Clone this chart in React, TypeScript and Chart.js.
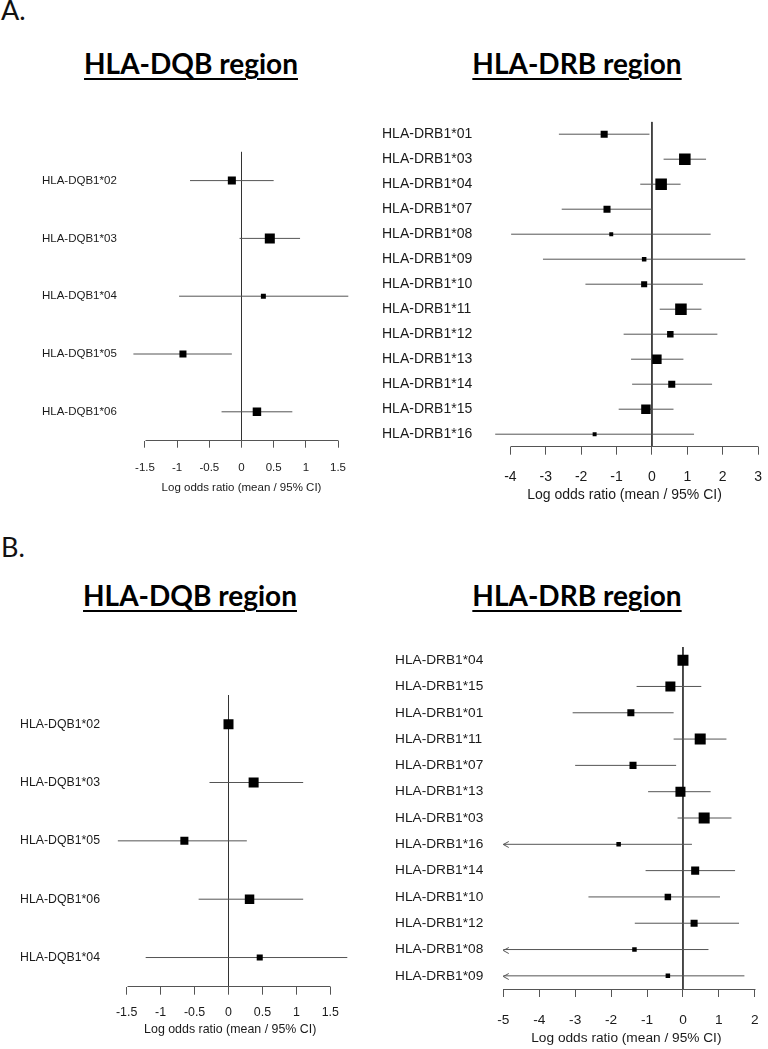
import React, { useEffect, useRef } from "react";
import { Chart, registerables } from "chart.js";

Chart.register(...registerables);

// ---------------- DATA ----------------
// Panel A – HLA-DQB region
const dqbALabels = ["HLA-DQB1*02", "HLA-DQB1*03", "HLA-DQB1*04", "HLA-DQB1*05", "HLA-DQB1*06"];
const dqbAMean = [-0.15, 0.44, 0.34, -0.91, 0.24];
const dqbALow = [-0.8, -0.03, -0.97, -1.68, -0.31];
const dqbAHigh = [0.5, 0.91, 1.66, -0.15, 0.79];
const dqbAWeight = [0.73, 0.91, 0.45, 0.64, 0.77];
const dqbATicks = [-1.5, -1, -0.5, 0, 0.5, 1, 1.5];
const dqbATickLabels = ["-1.5", "-1", "-0.5", "0", "0.5", "1", "1.5"];

// Panel A – HLA-DRB region
const drbALabels = [
  "HLA-DRB1*01", "HLA-DRB1*03", "HLA-DRB1*04", "HLA-DRB1*07", "HLA-DRB1*08",
  "HLA-DRB1*09", "HLA-DRB1*10", "HLA-DRB1*11", "HLA-DRB1*12", "HLA-DRB1*13",
  "HLA-DRB1*14", "HLA-DRB1*15", "HLA-DRB1*16",
];
const drbAMean = [-1.35, 0.93, 0.26, -1.27, -1.15, -0.22, -0.22, 0.82, 0.52, 0.14, 0.56, -0.17, -1.62];
const drbALow = [-2.63, 0.33, -0.33, -2.55, -3.98, -3.08, -1.88, 0.22, -0.8, -0.59, -0.56, -0.94, -4.43];
const drbAHigh = [-0.07, 1.53, 0.81, 0.0, 1.66, 2.64, 1.44, 1.4, 1.85, 0.89, 1.7, 0.61, 1.19];
const drbAWeight = [0.64, 1.05, 1.05, 0.64, 0.36, 0.41, 0.55, 1.05, 0.59, 0.86, 0.64, 0.86, 0.36];
const drbATicks = [-4, -3, -2, -1, 0, 1, 2, 3];
const drbATickLabels = ["-4", "-3", "-2", "-1", "0", "1", "2", "3"];

// Panel B – HLA-DQB region
const dqbBLabels = ["HLA-DQB1*02", "HLA-DQB1*03", "HLA-DQB1*05", "HLA-DQB1*06", "HLA-DQB1*04"];
const dqbBMean = [0.0, 0.37, -0.65, 0.31, 0.46];
const dqbBLow = [0.0, -0.28, -1.63, -0.44, -1.22];
const dqbBHigh = [0.0, 1.1, 0.27, 1.1, 1.75];
const dqbBWeight = [0.91, 0.91, 0.73, 0.86, 0.55];
const dqbBTicks = [-1.5, -1, -0.5, 0, 0.5, 1, 1.5];
const dqbBTickLabels = ["-1.5", "-1", "-0.5", "0", "0.5", "1", "1.5"];

// Panel B – HLA-DRB region (null lower bound = beyond the axis, drawn as arrow)
const drbBLabels = [
  "HLA-DRB1*04", "HLA-DRB1*15", "HLA-DRB1*01", "HLA-DRB1*11", "HLA-DRB1*07",
  "HLA-DRB1*13", "HLA-DRB1*03", "HLA-DRB1*16", "HLA-DRB1*14", "HLA-DRB1*10",
  "HLA-DRB1*12", "HLA-DRB1*08", "HLA-DRB1*09",
];
const drbBMean = [0.0, -0.35, -1.45, 0.48, -1.39, -0.07, 0.59, -1.79, 0.34, -0.42, 0.31, -1.35, -0.42];
const drbBLow = [0.0, -1.29, -3.07, -0.26, -3.0, -0.97, -0.15, null, -1.04, -2.63, -1.34, null, null];
const drbBHigh = [0.0, 0.51, -0.26, 1.21, -0.19, 0.77, 1.35, 0.25, 1.45, 1.03, 1.56, 0.71, 1.71];
const drbBWeight = [1.0, 0.91, 0.64, 1.0, 0.64, 0.91, 1.0, 0.41, 0.73, 0.59, 0.64, 0.41, 0.41];
const drbBTicks = [-5, -4, -3, -2, -1, 0, 1, 2];
const drbBTickLabels = ["-5", "-4", "-3", "-2", "-1", "0", "1", "2"];
const drbBAxisFloor = -5;

const axisTitle = "Log odds ratio (mean / 95% CI)";

// ---------------- STYLE ----------------
const BOX_PX = 11;
const CI_COLOR = "#555555";
const ZERO_COLOR = "#333333";
const AXIS_COLOR = "#555555";
const TEXT_COLOR = "#1a1a1a";
const SANS = "'Liberation Sans', Arial, sans-serif";

type Panel = {
  labels: string[];
  mean: number[];
  low: (number | null)[];
  high: number[];
  weight: number[];
  ticks: number[];
  tickLabels: string[];
  floor?: number;
  xMin: number;
  xMax: number;
  box: { left: number; top: number; width: number; height: number };
  pad: { left: number; top: number; right: number; bottom: number };
  yAxisWidth: number;
  xAxisHeight: number;
  labelSize: number;
  tickSize: number;
  tickLength: number;
  tickLine: number;
  titlePad: number;
};

const panels: Panel[] = [
  {
    labels: dqbALabels, mean: dqbAMean, low: dqbALow, high: dqbAHigh, weight: dqbAWeight,
    ticks: dqbATicks, tickLabels: dqbATickLabels,
    xMin: -1.75, xMax: 1.75,
    box: { left: 0, top: 100, width: 384, height: 400 },
    pad: { left: 42, top: 51.7, right: 29.9, bottom: 0 },
    yAxisWidth: 86.9, xAxisHeight: 59.3,
    labelSize: 11.5, tickSize: 11.5, tickLength: 7, tickLine: 40, titlePad: 4.8,
  },
  {
    labels: drbALabels, mean: drbAMean, low: drbALow, high: drbAHigh, weight: drbAWeight,
    ticks: drbATicks, tickLabels: drbATickLabels,
    xMin: -4.6, xMax: 3.05,
    box: { left: 370, top: 100, width: 398, height: 420 },
    pad: { left: 12, top: 21.7, right: 2.6, bottom: 0 },
    yAxisWidth: 107.2, xAxisHeight: 73.3,
    labelSize: 14, tickSize: 14, tickLength: 8, tickLine: 45, titlePad: 16.6,
  },
  {
    labels: dqbBLabels, mean: dqbBMean, low: dqbBLow, high: dqbBHigh, weight: dqbBWeight,
    ticks: dqbBTicks, tickLabels: dqbBTickLabels,
    xMin: -1.8, xMax: 1.85,
    box: { left: 0, top: 640, width: 384, height: 409 },
    pad: { left: 20, top: 55, right: 29.9, bottom: 0 },
    yAxisWidth: 86.3, xAxisHeight: 62.3,
    labelSize: 12.3, tickSize: 12.4, tickLength: 8, tickLine: 36.6, titlePad: 11.6,
  },
  {
    labels: drbBLabels, mean: drbBMean, low: drbBLow, high: drbBHigh, weight: drbBWeight,
    ticks: drbBTicks, tickLabels: drbBTickLabels, floor: drbBAxisFloor,
    xMin: -5.3, xMax: 2.15,
    box: { left: 370, top: 620, width: 398, height: 429 },
    pad: { left: 25, top: 27, right: 3.1, bottom: 0 },
    yAxisWidth: 97.5, xAxisHeight: 60,
    labelSize: 13.7, tickSize: 13.7, tickLength: 8, tickLine: 46, titlePad: 2.6,
  },
];

function Forest({ p }: { p: Panel }) {
  const ref = useRef<HTMLCanvasElement>(null);
  useEffect(() => {
    const canvas = ref.current;
    if (!canvas) return;
    const n = p.labels.length;
    const datasets: any[] = [];
    datasets.push({
      type: "scatter",
      data: p.mean.map((m, i) => ({ x: m, y: i + 1 })),
      pointStyle: "rect",
      pointRadius: p.weight.map((w) => (w * BOX_PX) / Math.SQRT2),
      pointHoverRadius: p.weight.map((w) => (w * BOX_PX) / Math.SQRT2),
      backgroundColor: "#000",
      borderColor: "#000",
      pointBorderWidth: 0,
      borderWidth: 0,
      order: 0,
    });
    p.mean.forEach((_, i) => {
      const lo = p.low[i] === null ? (p.floor as number) : (p.low[i] as number);
      if (lo === p.high[i]) return;
      datasets.push({
        type: "line",
        data: [
          { x: lo, y: i + 1 },
          { x: p.high[i], y: i + 1 },
        ],
        borderColor: CI_COLOR,
        borderWidth: 1,
        pointRadius: 0,
        order: 1,
      });
    });
    datasets.push({
      type: "line",
      data: [
        { x: 0, y: 0.5 },
        { x: 0, y: n + 0.5 },
      ],
      borderColor: ZERO_COLOR,
      borderWidth: 1,
      pointRadius: 0,
      order: 2,
    });

    const axisLine = {
      id: "axisLine",
      afterDatasetsDraw(chart: any) {
        const { ctx } = chart;
        const xs = chart.scales.x;
        const ys = chart.scales.y;
        const y0 = Math.round(xs.top - 0.5) + 0.5;
        ctx.save();
        ctx.strokeStyle = AXIS_COLOR;
        ctx.lineWidth = 1;
        ctx.beginPath();
        ctx.moveTo(Math.round(xs.getPixelForValue(p.ticks[0])) + 0.5, y0);
        ctx.lineTo(Math.round(xs.getPixelForValue(p.ticks[p.ticks.length - 1])) + 0.5, y0);
        ctx.stroke();
        // arrows for intervals that run past the axis
        ctx.strokeStyle = CI_COLOR;
        p.low.forEach((lo, i) => {
          if (lo !== null) return;
          const px = xs.getPixelForValue(p.floor as number);
          const py = Math.round(ys.getPixelForValue(i + 1)) + 0.5;
          ctx.beginPath();
          ctx.moveTo(px + 5.5, py - 3);
          ctx.lineTo(px, py);
          ctx.lineTo(px + 5.5, py + 3);
          ctx.stroke();
        });
        ctx.restore();
      },
    };

    const chart = new Chart(canvas, {
      type: "scatter",
      data: { datasets },
      plugins: [axisLine],
      options: {
        animation: false,
        responsive: false,
        maintainAspectRatio: false,
        devicePixelRatio: 1,
        events: [],
        layout: { padding: p.pad },
        plugins: { legend: { display: false }, tooltip: { enabled: false } },
        scales: {
          x: {
            type: "linear",
            min: p.xMin,
            max: p.xMax,
            afterBuildTicks: (s: any) => {
              s.ticks = p.ticks.map((v) => ({ value: v }));
            },
            afterFit: (s: any) => {
              s.height = p.xAxisHeight;
            },
            grid: {
              drawOnChartArea: false,
              drawTicks: true,
              tickLength: p.tickLength,
              color: AXIS_COLOR,
              lineWidth: 1,
            },
            border: { display: false },
            ticks: {
              autoSkip: false,
              maxRotation: 0,
              minRotation: 0,
              padding: 0,
              color: TEXT_COLOR,
              font: { family: SANS, size: p.tickSize, lineHeight: p.tickLine + "px" },
              callback: (_v: any, i: number) => p.tickLabels[i],
            },
            title: {
              display: true,
              text: axisTitle,
              color: TEXT_COLOR,
              font: { family: SANS, size: p.tickSize },
              padding: { top: 0, bottom: p.titlePad },
            },
          },
          y: {
            type: "linear",
            min: 0.5,
            max: n + 0.5,
            reverse: true,
            afterBuildTicks: (s: any) => {
              s.ticks = p.labels.map((_, i) => ({ value: i + 1 }));
            },
            afterFit: (s: any) => {
              s.width = p.yAxisWidth;
            },
            grid: { display: false },
            border: { display: false },
            ticks: {
              autoSkip: false,
              crossAlign: "far",
              color: TEXT_COLOR,
              font: { family: SANS, size: p.labelSize },
              callback: (_v: any, i: number) => p.labels[i],
            },
          },
        },
      } as any,
    });
    return () => chart.destroy();
  }, [p]);
  return (
    <canvas
      ref={ref}
      width={p.box.width}
      height={p.box.height}
      style={{
        position: "absolute",
        left: p.box.left,
        top: p.box.top,
        width: p.box.width,
        height: p.box.height,
      }}
    />
  );
}

const HEAD_FONT = "Lato, 'Open Sans', 'Noto Sans', sans-serif";

function Letter({ text, top }: { text: string; top: number }) {
  return (
    <div
      style={{
        position: "absolute",
        left: 1,
        top,
        fontFamily: HEAD_FONT,
        fontSize: 27,
        lineHeight: "27px",
        color: "#111",
      }}
    >
      {text}
    </div>
  );
}

function Heading({ text, center, top }: { text: string; center: number; top: number }) {
  return (
    <div
      style={{
        position: "absolute",
        left: center - 150,
        width: 300,
        top,
        textAlign: "center",
        fontFamily: HEAD_FONT,
        fontWeight: 700,
        fontSize: 28,
        lineHeight: "28px",
        color: "#000",
        textDecoration: "underline",
        textDecorationThickness: "2px",
        textUnderlineOffset: "4px",
      }}
    >
      {text}
    </div>
  );
}

export default function App() {
  return (
    <div
      style={{
        position: "absolute",
        left: 0,
        top: 0,
        width: 768,
        height: 1049,
        background: "#fff",
        overflow: "hidden",
      }}
    >
      <Letter text="A." top={-4} />
      <Letter text="B." top={533} />
      <Heading text="HLA-DQB region" center={191} top={49} />
      <Heading text="HLA-DRB region" center={577} top={49} />
      <Heading text="HLA-DQB region" center={190} top={581} />
      <Heading text="HLA-DRB region" center={577} top={581} />
      {panels.map((p, i) => (
        <Forest key={i} p={p} />
      ))}
    </div>
  );
}
